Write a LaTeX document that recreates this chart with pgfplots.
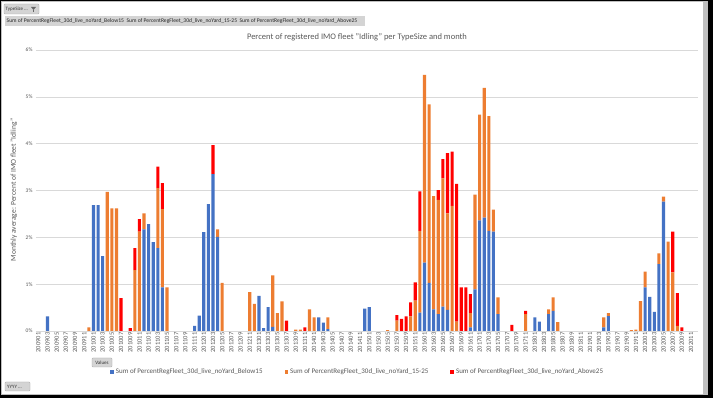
\documentclass[border=0pt]{standalone}
\usepackage{pgfplots}
\usepackage{pgfplotstable}
\pgfplotsset{compat=1.18}
\usepackage{fontspec}
\setmainfont{Carlito}
\definecolor{cblue}{HTML}{4472C4}
\definecolor{corange}{HTML}{ED7D31}
\definecolor{cred}{HTML}{FF0000}
\definecolor{tcol}{HTML}{595959}
\definecolor{gridc}{HTML}{D9D9D9}
\definecolor{btn}{HTML}{D4D4D4}
\pgfplotstableread{
x b o r
2 0.31 0 0
11 0 0.08 0
12 2.69 0 0
13 2.69 0 0
14 1.60 0 0
15 0 2.97 0
16 0 2.62 0
17 0 2.62 0
18 0 0 0.70
20 0 0 0.06
21 0 1.30 0.47
22 0 2.12 0.27
23 2.17 0.34 0
24 2.28 0 0
25 1.90 0 0
26 1.77 1.28 0.46
27 0.93 1.67 0.56
28 0 0.93 0
34 0.11 0 0
35 0.33 0 0
36 2.11 0 0
37 2.71 0 0
38 3.35 0 0.62
39 2.01 0.16 0
40 0 1.03 0
46 0 0.83 0
47 0 0.58 0
48 0.75 0 0
49 0.06 0 0
50 0.51 0 0
51 0.09 1.10 0
52 0 0.38 0
53 0 0.63 0
54 0 0 0.22
56 0 0.03 0
57 0 0.03 0
58 0 0 0.08
59 0 0.46 0
60 0 0.29 0
61 0.29 0 0
62 0.18 0 0
63 0.04 0.25 0
71 0.48 0 0
72 0.51 0 0
76 0 0.02 0
78 0 0.22 0.12
79 0 0 0.26
80 0 0 0.31
81 0 0.31 0.30
82 0 0.65 0.39
83 0.39 1.75 0.84
84 1.46 4.01 0
85 1.03 3.81 0
86 0.46 2.42 0
87 0.36 2.44 0.21
88 0.52 2.74 0.41
89 0.45 2.06 1.29
90 0 2.67 1.16
91 0 0.20 2.94
92 0 0 0.93
93 0 0 0.93
94 0.08 0.30 0.41
95 0.89 2.02 0
96 2.36 2.26 0
97 2.42 2.77 0
98 2.14 2.45 0
99 2.12 0.47 0
100 0.36 0.36 0
103 0 0 0.13
106 0 0.36 0.07
108 0.29 0 0
109 0.20 0 0
111 0.36 0.10 0
112 0.43 0.29 0
113 0 0.19 0
123 0.08 0.21 0
124 0.32 0.06 0
129 0 0.02 0
130 0 0.03 0
131 0 0.64 0
132 0.93 0.34 0
133 0.73 0 0
134 0.41 0 0
135 1.43 0.23 0
136 2.76 0.11 0
137 0 1.91 0
138 0 1.25 0.87
139 0 0.11 0.70
140 0 0 0.08
}\idle
\begin{document}
\begin{tikzpicture}
% frame
\fill[black] (0pt,0pt) rectangle (713pt,-398pt);
\fill[black!25] (1pt,-1pt) rectangle (708pt,-395pt);
\fill[white] (2pt,-2pt) rectangle (703pt,-394pt);
% top buttons
\draw[fill=btn, draw=black!35, rounded corners=0.8pt] (4pt,-4pt) rectangle (39pt,-14pt);
\node[anchor=west, inner sep=0pt, font=\fontsize{5}{6}\selectfont, text=black!80] at (5.5pt,-9pt) {TypeSize ...};
\fill[black!60] (31pt,-7pt) -- (36pt,-7pt) -- (33.5pt,-10pt) -- cycle;
\fill[black!60] (33pt,-10pt) rectangle (34pt,-12pt);
\fill[btn] (5pt,-16pt) rectangle (365pt,-26pt);
\node[anchor=west, inner sep=0pt, font=\fontsize{5.6}{6}\selectfont, text=black!85] at (6.5pt,-21pt) {Sum of PercentRegFleet\_30d\_live\_noYard\_Below15\ \ Sum of PercentRegFleet\_30d\_live\_noYard\_15-25\ \ Sum of PercentRegFleet\_30d\_live\_noYard\_Above25};
% title and axis label
\node[font=\fontsize{8.5}{10}\selectfont, text=tcol] at (357pt,-37pt) {Percent of registered IMO fleet "Idling" per TypeSize and month};
\node[rotate=90, font=\fontsize{7.5}{9}\selectfont, text=tcol] at (14pt,-190pt) {Monthly average: Percent of IMO fleet "Idling"};
% bottom buttons
\draw[fill=btn, draw=black!35, rounded corners=0.8pt] (92pt,-358pt) rectangle (112pt,-367pt);
\node[font=\fontsize{5}{6}\selectfont, text=black!80, inner sep=0pt] at (102pt,-362.5pt) {Values};
\draw[fill=btn, draw=black!35, rounded corners=0.8pt] (5pt,-382pt) rectangle (30pt,-391pt);
\node[anchor=west, font=\fontsize{5}{6}\selectfont, text=black!80, inner sep=0pt] at (7pt,-386.5pt) {YYYY ...};
\begin{axis}[
  at={(36pt,-331pt)}, anchor=south west,
  scale only axis, width=662pt, height=281pt,
  ybar stacked, bar width=3.1pt,
  xmin=-0.5, xmax=143.5, ymin=0, ymax=6,
  enlarge x limits=false,
  axis line style={draw=none},
  major tick length=0pt,
  ymajorgrids, grid style={draw=gridc, line width=0.6pt},
  ytick={0,1,2,3,4,5,6},
  yticklabels={0\%,1\%,2\%,3\%,4\%,5\%,6\%},
  yticklabel style={font=\fontsize{5.5}{6}\selectfont, text=tcol},
  xtick={0,2,...,142},
  xticklabels={200901,200903,200905,200907,200909,200911,201001,201003,201005,201007,201009,201011,201101,201103,201105,201107,201109,201111,201201,201203,201205,201207,201209,201211,201301,201303,201305,201307,201309,201311,201401,201403,201405,201407,201409,201411,201501,201503,201505,201507,201509,201511,201601,201603,201605,201607,201609,201611,201701,201703,201705,201707,201709,201711,201801,201803,201805,201807,201809,201811,201901,201903,201905,201907,201909,201911,202001,202003,202005,202007,202009,202011},
  xticklabel style={font=\fontsize{6.5}{7}\selectfont, text=tcol, rotate=90, anchor=east, inner sep=1.5pt},
  legend style={draw=none, fill=none, at={(0.486,-0.146)}, anchor=center,
    legend columns=3, font=\fontsize{7}{8}\selectfont, text=tcol,
    /tikz/every even column/.append style={column sep=20pt}},
  legend image code/.code={\fill[#1] (0pt,-1.8pt) rectangle (3.6pt,1.8pt);},
]
\addplot[fill=cblue, draw=none] table[x=x, y=b] {\idle};
\addlegendentry{Sum of PercentRegFleet\_30d\_live\_noYard\_Below15}
\addplot[fill=corange, draw=none] table[x=x, y=o] {\idle};
\addlegendentry{Sum of PercentRegFleet\_30d\_live\_noYard\_15-25}
\addplot[fill=cred, draw=none] table[x=x, y=r] {\idle};
\addlegendentry{Sum of PercentRegFleet\_30d\_live\_noYard\_Above25}
\end{axis}
\end{tikzpicture}
\end{document}
